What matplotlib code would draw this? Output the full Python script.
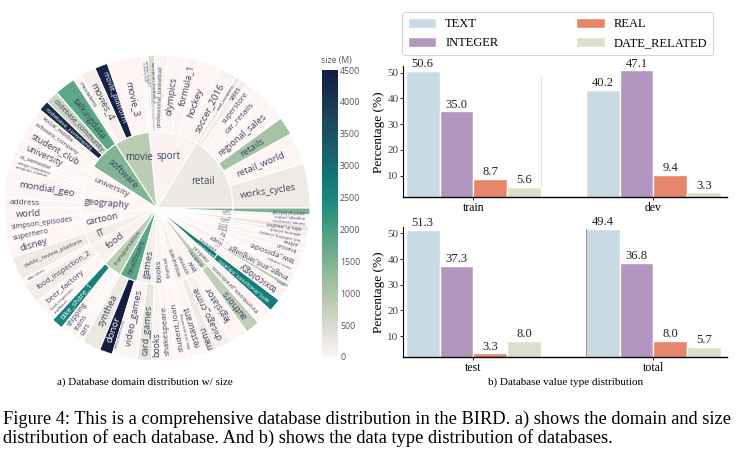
import numpy as np
import matplotlib
matplotlib.use('Agg')
import matplotlib.pyplot as plt
from matplotlib.patches import Wedge
from matplotlib.colors import LinearSegmentedColormap, Normalize
from matplotlib.colorbar import ColorbarBase

# ---------------- sunburst data (counter-clockwise from 3 o'clock) ----------------
db_names = ['works_cycles', 'retail_world', 'retails', 'regional_sales', 'car_retails', 'superstore', 'sales', 'retail_complains',
            'soccer_2016', 'hockey', 'formula_1', 'olympics', 'professional_basketball', 'european_football_2',
            'european_football_1', 'ice_hockey_draft',
            'movie_3', 'movie_platform', 'movies_4', 'movielens',
            'talkingdata', 'codebase_community', 'codebase_comments', 'social_media', 'software_company',
            'student_club', 'university', 'cs_semester', 'college_completion', 'computer_student',
            'mondial_geo', 'address', 'world',
            'simpson_episodes', 'superhero', 'disney',
            'public_review_platform', 'app_store',
            'food_inspection_2', 'beer_factory', 'food_inspection', 'craftbeer',
            'bike_share_1', 'shipping', 'trains', 'cars',
            'synthea', 'donor', 'mental_health_survey',
            'video_games', 'card_games',
            'books', 'shakespeare',
            'student_loan', 'debit_card_specializing',
            'restaurant', 'menu',
            'chicago_crime', 'legislator', 'authors', 'thrombosis_prediction', 'world_development_indicators',
            'toxicology', 'genes', 'image_and_language', 'music_tracker', 'law_episode', 'financial', 'airline',
            'book_publishing_company', 'california_schools', 'sales_in_weather', 'human_resources',
            'language_corpus', 'coinmarketcap']
db_domain = (['retail'] * 8 + ['sport'] * 8 + ['movie'] * 4 + ['software'] * 5 + ['university'] * 5
             + ['geography'] * 3 + ['cartoon'] * 3 + ['IT'] * 2 + ['food'] * 4 + ['transportation'] * 4
             + ['healthcare'] * 3 + ['games'] * 2 + ['books'] * 2 + ['financial'] * 2 + ['restaurant'] * 2
             + ['criminal', 'law', 'academic', 'medical', 'economics',
                'chemistry', 'biology', 'image', 'music', 'TV', 'banking', 'aviation',
                'publishing', 'education', 'weather', 'HR', 'language', 'crypto'])
db_share = [17, 12, 7, 9, 5, 4, 3, 2,
            7, 8, 5, 7, 5, 2.5, 1.3, 1.2,
            13, 5, 6, 3,
            8, 5, 4, 3.5, 3.5,
            6, 5, 3, 2, 2,
            11, 4, 5,
            5, 4, 5,
            9, 2,
            8, 5, 2, 2,
            4.5, 3.5, 3, 3,
            7, 5, 1.5,
            8, 5.5,
            4, 5,
            5, 2,
            5, 4,
            6, 7, 5.5, 6.5, 5,
            5.5, 1.5, 5, 2, 5, 2.5, 2.5,
            2, 2, 2.5, 2, 2, 2.5]
db_size = [200, 30, 1100, 20, 10, 20, 150, 250,
           40, 30, 40, 30, 40, 500, 80, 10,
           20, 4400, 120, 30,
           1800, 650, 4300, 60, 20,
           10, 20, 5, 50, 5,
           20, 40, 5,
           10, 5, 5,
           180, 20,
           150, 10, 50, 5,
           2600, 5, 1, 5,
           250, 4500, 30,
           30, 300,
           60, 20,
           10, 30,
           20, 200,
           100, 30, 800, 20, 2700,
           20, 900, 80, 20, 30, 50, 60,
           5, 150, 250, 5, 40, 1500]

# ---------------- bar chart data ----------------
value_types = ['TEXT', 'INTEGER', 'REAL', 'DATE_RELATED']
type_colors = ['#c8dbe4', '#b296bf', '#e8866b', '#dae0cb']
top_splits = ['train', 'dev']
top_heights = [[50.6, 35.0, 8.7, 5.6], [43.3, 50.9, 10.2, 3.5]]
top_labels = [['50.6', '35.0', '8.7', '5.6'], ['40.2', '47.1', '9.4', '3.3']]
bottom_splits = ['test', 'total']
bottom_heights = [[51.3, 37.3, 3.3, 8.0], [51.7, 38.5, 8.1, 5.8]]
bottom_labels = [['51.3', '37.3', '3.3', '8.0'], ['49.4', '36.8', '8.0', '5.7']]

W, H = 743, 458
fig = plt.figure(figsize=(W / 100, H / 100), dpi=100)

tempo = ['#fef5f4', '#dee0d2', '#bdceb5', '#99bd9c', '#6ead8a', '#419d81',
         '#19897d', '#127475', '#195e6a', '#1c485d', '#193350', '#141d43']
cmap = LinearSegmentedColormap.from_list('tempo', tempo)
norm = Normalize(0, 4500)

# ---------------- sunburst ----------------
R_PX = 153
R_IN = 76 / 153
cx, cy = 157, 208
ax = fig.add_axes([(cx - R_PX) / W, 1 - (cy + R_PX) / H, 2 * R_PX / W, 2 * R_PX / H])
ax.set_xlim(-1, 1)
ax.set_ylim(-1, 1)
ax.axis('off')

share = np.array(db_share, dtype=float)
size = np.array(db_size, dtype=float)
start = np.concatenate([[0], np.cumsum(share)[:-1]])
TXT = '#3c4663'
PT = 1.389  # px per pt


def text_color(v):
    return 'white' if v > 2300 else TXT


def radial_label(text, mid, r0, r1, w_deg, color, max_px=9.5):
    # biggest font for a radial text that fits in the wedge (pixel units)
    w = np.radians(w_deg)
    n = len(text)
    fs = min(max_px, (0.97 * r1 - r0) / (0.56 * n), 0.97 * r1 / (1 / w + 0.56 * n))
    ri = max(r0, fs / w)
    rc = (ri + 0.97 * r1) / 2 / R_PX
    rot = mid
    if rot > 90:
        rot -= 180
    if rot <= -90:
        rot += 180
    a = np.radians(mid)
    ax.text(rc * np.cos(a), rc * np.sin(a), text, rotation=rot, rotation_mode='anchor',
            ha='center', va='center', fontsize=fs / PT, color=color, family='Open Sans')


# outer ring
for name, s0, w, v in zip(db_names, start, share, size):
    ax.add_patch(Wedge((0, 0), 1.0, s0, s0 + w, width=1 - R_IN, facecolor=cmap(norm(v)),
                       edgecolor='white', linewidth=0.8))
    radial_label(name, s0 + w / 2, R_IN * R_PX, R_PX, w, text_color(v))

# inner ring (domain), colour = share-weighted mean of its databases
domains = list(dict.fromkeys(db_domain))
for d in domains:
    idx = [i for i, x in enumerate(db_domain) if x == d]
    d0 = start[idx[0]]
    dw = share[idx].sum()
    dv = (share[idx] * size[idx]).sum() / dw
    ax.add_patch(Wedge((0, 0), R_IN, d0, d0 + dw, facecolor=cmap(norm(dv)),
                       edgecolor='white', linewidth=0.8))
    mid = d0 + dw / 2
    if dw >= 25:
        a = np.radians(mid)
        rr = 0.7 * R_IN
        ax.text(rr * np.cos(a), rr * np.sin(a), d, ha='center', va='center',
                fontsize=7, color=text_color(dv), family='Open Sans')
    else:
        radial_label(d, mid, 0, R_IN * R_PX, dw, text_color(dv))

# colorbar
cax = fig.add_axes([322 / W, 1 - 357 / H, 16 / W, 287 / H])
cb = ColorbarBase(cax, cmap=cmap, norm=norm, ticks=np.arange(0, 4501, 500))
cb.outline.set_visible(False)
cax.tick_params(length=0, labelsize=6.3, labelcolor='#555555', pad=1.5)
for t in cax.get_yticklabels():
    t.set_family('Open Sans')
fig.text(321 / W, 1 - 60 / H, 'size (M)', fontsize=6.2, color='#555555',
         family='Open Sans', ha='left', va='center')

# ---------------- bar charts ----------------
SERIF = 'Liberation Serif'
bw = 0.1875
offsets = (np.arange(4) - 1.5) * bw


def bar_panel(rect, splits, heights, labels, ylo):
    bax = fig.add_axes(rect)
    bars = []
    for gi, (hs, ls) in enumerate(zip(heights, labels)):
        for ti in range(4):
            b = bax.bar(gi + offsets[ti], hs[ti], width=bw, color=type_colors[ti],
                        edgecolor='white', linewidth=1.0, label=value_types[ti] if gi == 0 else None)
            bax.annotate(ls[ti], (gi + offsets[ti], hs[ti]), xytext=(0, 0.5),
                         textcoords='offset points', ha='center', va='bottom',
                         fontsize=9, family=SERIF, color='#222222')
            bars.append(b[0])
    bax.set_xlim(-0.392, 1.408)
    bax.set_ylim(ylo, 52.5)
    bax.set_xticks(range(len(splits)))
    bax.set_xticklabels(splits, family=SERIF, fontsize=8.5)
    bax.set_yticks([10, 20, 30, 40, 50])
    bax.set_yticklabels(['10', '20', '30', '40', '50'], family=SERIF, fontsize=8, color='#444444')
    bax.tick_params(axis='y', length=2, pad=1, width=0.6)
    bax.tick_params(axis='x', length=2, pad=1.5, width=0.6)
    bax.set_ylabel('Percentage (%)', family=SERIF, fontsize=9.5, labelpad=2)
    for sp in ['top', 'right']:
        bax.spines[sp].set_visible(False)
    bax.spines['left'].set_linewidth(0.8)
    bax.spines['bottom'].set_linewidth(1.0)
    return bax, bars


ax_top, top_bars = bar_panel([402.7 / W, 1 - 197.3 / H, 324 / W, 131.1 / H],
                             top_splits, top_heights, top_labels, 1.6)
ax_bot, bot_bars = bar_panel([402.7 / W, 1 - 357.3 / H, 324 / W, 130.3 / H],
                             bottom_splits, bottom_heights, bottom_labels, 1.7)

# faint separator lines seen in the reference
last = top_bars[3]
ax_top.plot([last.get_x() + last.get_width()] * 2, [1.6, 47.9], color='#dddddd', lw=0.8, zorder=0)
first = bot_bars[4]
ax_bot.plot([first.get_x()] * 2, [1.7, first.get_height()], color='#999999', lw=0.8, zorder=3)

handles = top_bars[:4]
leg = fig.legend(handles, value_types, ncol=2, loc='center', mode='expand',
                 bbox_to_anchor=(402 / W, 1 - 51 / H, 311 / W, 35 / H),
                 prop={'family': SERIF, 'size': 9}, handlelength=2.3, handleheight=0.9,
                 handletextpad=0.7, frameon=True, borderaxespad=0, columnspacing=2,
                 labelspacing=0.5, borderpad=0.45)
leg.get_frame().set_edgecolor('#cccccc')
leg.get_frame().set_linewidth(0.8)

# ---------------- captions ----------------
fig.text(145 / W, 1 - 382 / H, 'a) Database domain distribution w/ size', family=SERIF,
         fontsize=8, ha='center', va='center')
fig.text(566 / W, 1 - 382 / H, 'b) Database value type distribution', family=SERIF,
         fontsize=8, ha='center', va='center')
fig.text(3 / W, 1 - 419 / H, 'Figure 4: This is a comprehensive database distribution in the BIRD. '
         'a) shows the domain and size', family=SERIF, fontsize=13.2, ha='left', va='center')
fig.text(3 / W, 1 - 438 / H, 'distribution of each database. And b) shows the data type distribution '
         'of databases.', family=SERIF, fontsize=13.2, ha='left', va='center')

fig.savefig('out.png', dpi=100)
